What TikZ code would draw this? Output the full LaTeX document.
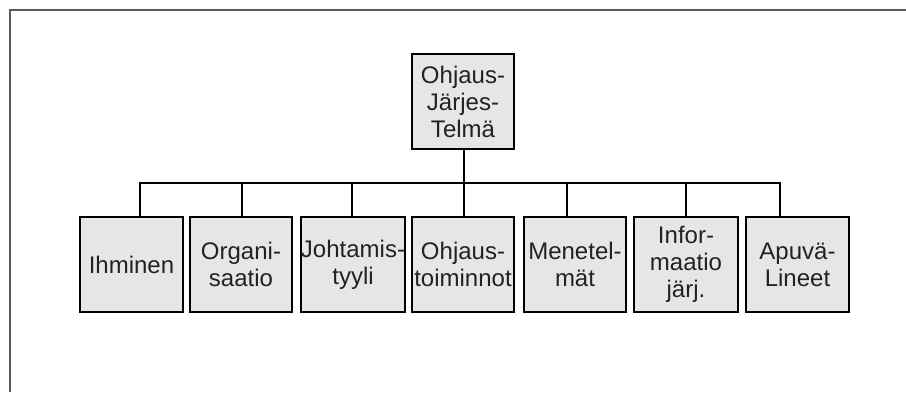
\documentclass[tikz,border=0pt]{standalone}
\usepackage{fontspec}
\setmainfont{Liberation Sans}
\definecolor{boxfill}{HTML}{E6E6E6}
\definecolor{framegray}{HTML}{5A5A5A}
\definecolor{inkdark}{HTML}{222222}
\begin{document}
\begin{tikzpicture}[x=1pt,y=-1pt,
  orgbox/.style={draw=black, line width=1.4pt, fill=boxfill, text=inkdark,
    minimum height=95pt, inner sep=0pt, align=center,
    font=\fontsize{24}{27}\selectfont},
  link/.style={draw=black, line width=1.3pt}]
  \useasboundingbox (0,0) rectangle (906,392);
  % page frame (top and left edges)
  \draw[framegray, line width=2pt] (10,392) -- (10,10) -- (906,10);

  % root
  \node[orgbox, minimum width=102pt] (top) at (463,101.5) {Ohjaus-\\Järjes-\\Telmä};

  % second level
  \node[orgbox, minimum width=103pt] (b1) at (131.5,264.5) {Ihminen};
  \node[orgbox, minimum width=102pt] (b2) at (241,264.5) {Organi-\\saatio};
  \node[orgbox, minimum width=102pt] (b3) at (353,264.5) {Johtamis-\\tyyli};
  \node[orgbox, minimum width=102pt] (b4) at (463,264.5) {Ohjaus-\\toiminnot};
  \node[orgbox, minimum width=102pt] (b5) at (575,264.5) {Menetel-\\mät};
  \node[orgbox, minimum width=104pt] (b6) at (686,264.5) {Infor-\\maatio\\järj.};
  \node[orgbox, minimum width=103pt] (b7) at (797.5,264.5) {Apuvä-\\Lineet};

  % bus line
  \coordinate (bus) at (0,183);
  \draw[link] ([xshift=8.5pt]b1.north) -- ([xshift=8.5pt]b1.north |- bus)
    -- ([xshift=-17.5pt]b7.north |- bus) -- ([xshift=-17.5pt]b7.north);
  \draw[link] ([xshift=1pt]top.south) -- ([xshift=1pt]b4.north);
  \draw[link] ([xshift=1pt]b2.north) -- ([xshift=1pt]b2.north |- bus);
  \draw[link] ([xshift=-1pt]b3.north) -- ([xshift=-1pt]b3.north |- bus);
  \draw[link] ([xshift=-8pt]b5.north) -- ([xshift=-8pt]b5.north |- bus);
  \draw[link] (b6.north) -- (b6.north |- bus);
\end{tikzpicture}
\end{document}
